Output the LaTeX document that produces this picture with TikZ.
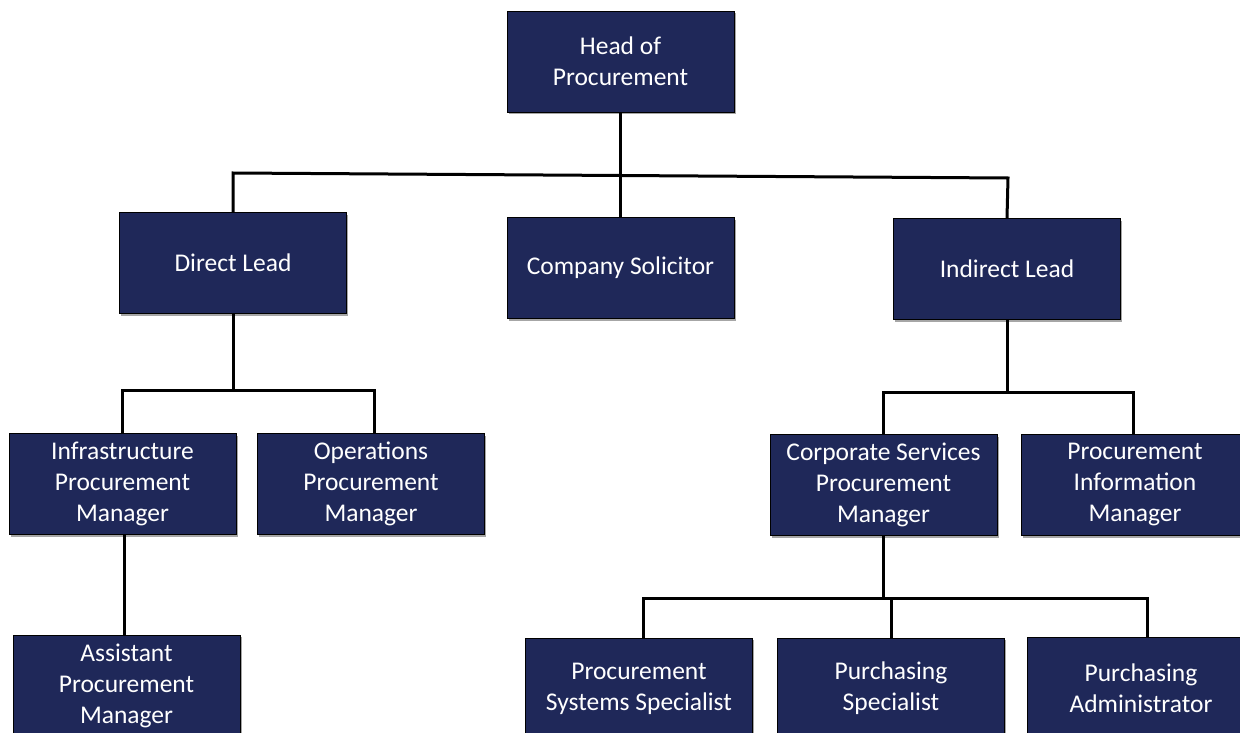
\documentclass[tikz,border=0pt]{standalone}
\usepackage{fontspec}
\setmainfont{Carlito}
\usetikzlibrary{shadows}
\definecolor{navy}{HTML}{1F2859}
\begin{document}
\begin{tikzpicture}[x=1pt,y=-1pt,
  box/.style={draw=black, line width=0.8pt, fill=navy, text=white, minimum width=227pt, minimum height=101pt,
    align=center, inner sep=2pt, font=\fontsize{25.5}{31}\selectfont,
    drop shadow={shadow xshift=1.5pt, shadow yshift=-2pt, opacity=0.35, fill=black}},
  link/.style={draw=black, line width=3pt}]
\useasboundingbox (0,0) rectangle (1240,733);
\begin{scope}
\clip (0,0) rectangle (1240,733);
\node[box] (head) at (620.5,61.5) {Head of\\Procurement};
\node[box] (dl) at (233,263) {Direct Lead};
\node[box] (cs) at (620.5,268) {Company Solicitor};
\node[box] (il) at (1007,269) {Indirect Lead};
\node[box] (ipm) at (122.5,484) {Infrastructure\\Procurement\\Manager};
\node[box] (opm) at (371,484) {Operations\\Procurement\\Manager};
\node[box] (cspm) at (883.5,485) {Corporate Services\\Procurement\\Manager};
\node[box] (pim) at (1135,485) {Procurement\\Information\\Manager};
\node[box] (apm) at (126.5,685.5) {Assistant\\Procurement\\Manager};
\node[box] (pss) at (639,688.5) {Procurement\\Systems Specialist};
\node[box] (ps) at (891,688.5) {Purchasing\\Specialist};
\node[box] (pa) at (1141,688) {Purchasing\\Administrator};

\coordinate (barL) at (233,173);
\coordinate (barR) at (1008,178);
\draw[link] (dl.north) -- (barL) -- (barR) -- (il.north);
\draw[link] (head.south) -- (cs.north);

\coordinate (b1) at (233,390);
\coordinate (opmin) at ([xshift=3pt]opm.north);
\draw[link] (dl.south) -- (b1);
\draw[link] (ipm.north) -- (ipm.north |- b1) -- (opmin |- b1) -- (opmin);

\coordinate (b2) at (1007,392);
\coordinate (pimin) at ([xshift=-2pt]pim.north);
\draw[link] (il.south) -- (b2);
\draw[link] (cspm.north) -- (cspm.north |- b2) -- (pimin |- b2) -- (pimin);

\coordinate (b3) at (883.5,598);
\coordinate (pssin) at ([xshift=4pt]pss.north);
\coordinate (pain) at ([xshift=6pt]pa.north);
\draw[link] (cspm.south) -- (b3);
\draw[link] (pssin) -- (pssin |- b3) -- (pain |- b3) -- (pain);
\draw[link] (ps.north) -- (ps.north |- b3);

\coordinate (ipmout) at ([xshift=1.5pt]ipm.south);
\draw[link] (ipmout) -- (ipmout |- apm.north);
\end{scope}
\end{tikzpicture}
\end{document}
